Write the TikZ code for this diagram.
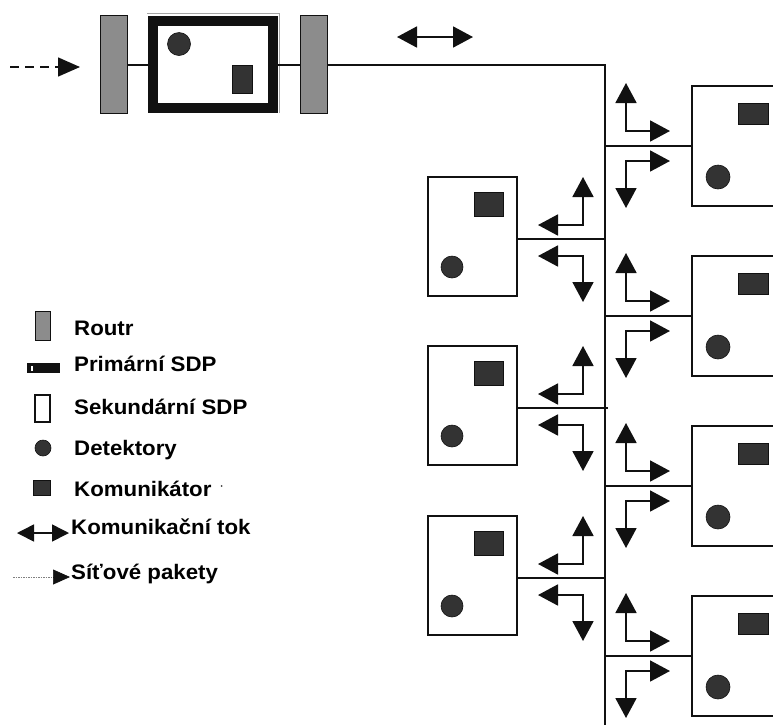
\documentclass[tikz,border=0pt]{standalone}
\usepackage{fontspec}
\setmainfont{Liberation Sans}[FakeStretch=1.06]
\usetikzlibrary{arrows.meta,positioning}
\definecolor{Ink}{HTML}{111111}
\definecolor{Chip}{HTML}{333333}
\definecolor{RouterGray}{HTML}{8C8C8C}

\begin{document}
\begin{tikzpicture}[x=1pt,y=-1pt,line join=miter,
      wire/.style={draw=Ink,line width=1.3pt},
      flow/.style={{Triangle[length=20pt,width=21pt]}-{Triangle[length=20pt,width=21pt]},Ink,line width=1.8pt},
      router/.style={draw=Ink,line width=1pt,fill=RouterGray,inner sep=0pt,
                     minimum width=27pt,minimum height=98pt},
      sdpbox/.style={draw=Ink,line width=1.3pt,fill=white,inner sep=0pt},
      detector/.style={circle,fill=Chip,draw=Ink,line width=0.6pt,inner sep=0pt,minimum size=23pt},
      comm/.style={fill=Chip,draw=Ink,line width=1pt,inner sep=0pt},
      legend/.style={anchor=base west,inner sep=0pt,font=\fontsize{21}{24}\selectfont\bfseries}]
    \useasboundingbox (0,0) rectangle (773,724);
    \clip (0,0) rectangle (773,724);

    % primary branch at the top
    \coordinate (pktin) at (10,67);
    \node[router] (rt1) at (113.5,64) {};
    \node[draw=Ink,line width=10pt,fill=white,inner sep=0pt,
          minimum width=120pt,minimum height=87pt] (psdp) at (213,64) {};
    \draw[gray!70,line width=0.8pt] (147,13.5) -- (279.5,13.5) -- (279.5,113);
    \node[router] (rt2) at (314,64) {};
    \node[detector] (pdet) at (179,44) {};
    \node[comm,minimum width=20pt,minimum height=28pt] (pcom) at (242,79) {};
    \coordinate (pktend) at ([xshift=-20pt]rt1.west |- pktin);
    \draw[-{Triangle[length=22pt,width=19pt]},Ink,line width=1.5pt,dash pattern=on 9pt off 6pt]
      (pktin) -- (80,67);
    \draw[wire] (rt1.east |- 0,65) -- (psdp.west |- 0,65);
    \draw[wire] (psdp.east |- 0,65) -- (rt2.west |- 0,65);
    \coordinate (trunk) at (605,65);
    \draw[wire] (rt2.east |- trunk) -- (trunk) -- (605,730);
    \draw[flow] (397,37) -- (473,37);

    % secondary SDPs on the right
    \foreach \i/\h in {1/146,2/316,3/486,4/656}{
      \node[sdpbox,minimum width=110pt,minimum height=120pt] (rbox\i) at (747,\h) {};
      \node[comm,minimum width=30pt,minimum height=21pt] (rcom\i) at (753,\h-32.5) {};
      \node[detector,minimum size=24pt] (rdet\i) at (718,\h+31) {};
      \coordinate (rj\i) at (605,\h);
      \draw[wire] (rj\i) -- (rbox\i.west);
      \draw[flow] (626,\h-63) |- (670,\h-15);
      \draw[flow] (670,\h+15) -| (626,\h+62);
    }

    % secondary SDPs on the left
    \foreach \i/\h in {1/239,2/408,3/578}{
      \node[sdpbox,minimum width=89pt,minimum height=119pt] (lbox\i) at (472.5,\h-2.5) {};
      \node[comm,minimum width=29pt,minimum height=24pt] (lcom\i) at (488.5,\h-35) {};
      \node[detector,minimum size=22pt] (ldet\i) at (452,\h+28) {};
      \coordinate (lj\i) at (605,\h);
      \draw[wire] (lj\i) -- (lj\i -| lbox\i.east);
      \draw[flow] (583,\h-62) |- (538,\h-14);
      \draw[flow] (538,\h+17) -| (583,\h+63);
    }
    \draw[wire] (lj2) -- ++(3,0);

    % legend
    \node[router,minimum width=15pt,minimum height=29pt] (krt) at (42.5,325.5) {};
    \node[legend] (trt) at (74,335) {Routr};
    \node[fill=Ink,inner sep=0pt,minimum width=33pt,minimum height=10pt] (kpsdp) at (43.5,368) {};
    \fill[white] (30.5,365.5) rectangle (33,370.5);
    \node[legend] (tpsdp) at (74,371) {Primární SDP};
    \node[sdpbox,minimum width=15pt,minimum height=27pt] (kssdp) at (42.5,408.5) {};
    \node[legend] (tssdp) at (74,414) {Sekundární SDP};
    \node[detector,minimum size=16pt] (kdet) at (43,448) {};
    \node[legend] (tdet) at (74,455) {Detektory};
    \node[comm,minimum width=17pt,minimum height=15pt] (kcom) at (41.5,487.5) {};
    \node[legend] (tcom) at (74,496)
      {Komunikátor\hspace{9pt}\raisebox{7pt}{\fontsize{9}{9}\selectfont\textperiodcentered}};
    \draw[{Triangle[length=17pt,width=17pt]}-{Triangle[length=17pt,width=17pt]},Ink,line width=1.6pt]
      (17,533) -- (69,533);
    \node[legend] (tflow) at (71,534) {Komunikační tok};
    \draw[gray,line width=0.7pt,dash pattern=on 1.5pt off 1pt] (13,577) -- (54,577);
    \draw[-{Triangle[length=17pt,width=15pt]},Ink,line width=0.7pt] (53,577) -- (70,577);
    \node[legend] (tpkt) at (71,579) {Síťové pakety};
\end{tikzpicture}
\end{document}
